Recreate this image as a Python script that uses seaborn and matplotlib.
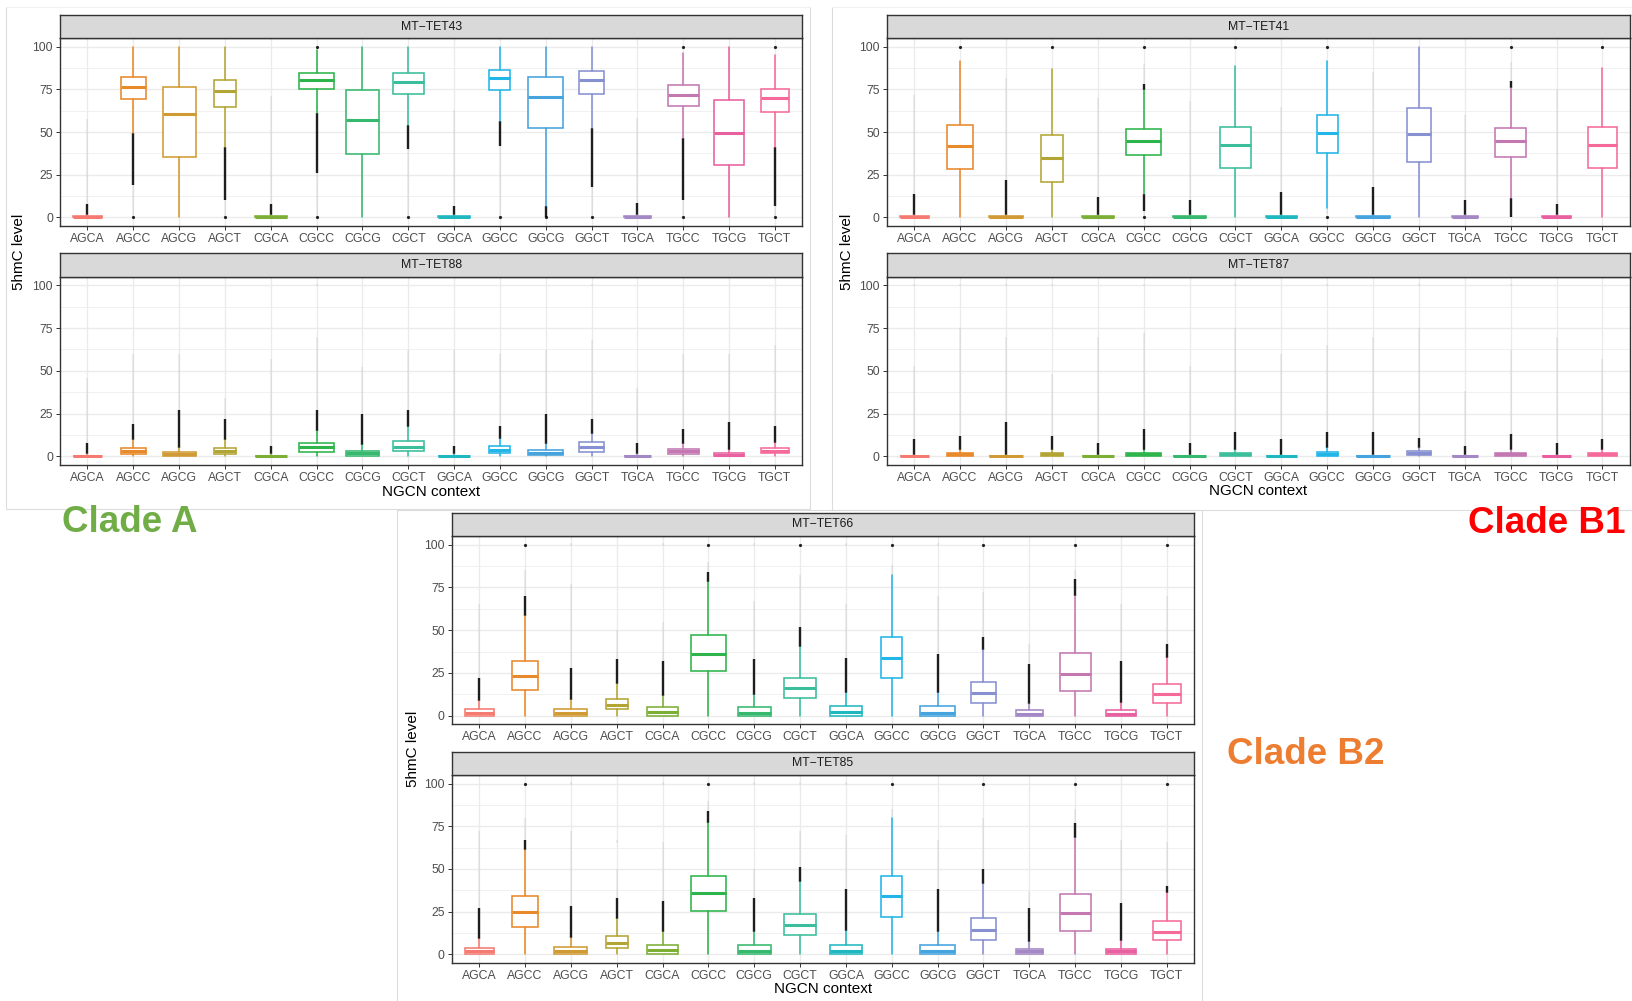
import matplotlib
matplotlib.use("Agg")
import matplotlib.pyplot as plt
from matplotlib.lines import Line2D
import seaborn as sns

W, H, DPI = 1633, 1001, 100

CONTEXTS = ["AGCA", "AGCC", "AGCG", "AGCT", "CGCA", "CGCC", "CGCG", "CGCT",
            "GGCA", "GGCC", "GGCG", "GGCT", "TGCA", "TGCC", "TGCG", "TGCT"]
COLORS = ["#F47A72", "#E8892A", "#D09A34", "#B3A534", "#7DAE36", "#2DB44A",
          "#36B86E", "#3BBE9B", "#20B8C0", "#22B5E8", "#45A3DD", "#8790D0",
          "#A487C5", "#C478B2", "#E8609F", "#F56A9A"]
# relative box widths (box width grows with number of sites)
BOX_WIDTHS = [0.63, 0.55, 0.72, 0.48, 0.69, 0.77, 0.71, 0.68,
              0.68, 0.46, 0.76, 0.54, 0.58, 0.68, 0.65, 0.62]

# ---- MT-TET43 : (whisker low, q1, median, q3, whisker high)
TET43_BOX = [(0, 0, 0, 0.6, 1.5), (49.3, 69.2, 76.6, 82.3, 100), (0, 35.7, 60.8, 76.2, 100),
             (41.5, 64.7, 74.3, 80.5, 100), (0, 0, 0, 0.6, 1.5), (61, 75, 80.5, 84.8, 98.4),
             (0, 37.4, 57.1, 74.5, 100), (54.4, 72.1, 79.3, 84.4, 100), (0, 0, 0, 0.6, 1.5),
             (56.5, 74.5, 81.5, 86.4, 100), (6.8, 52.2, 70.8, 82.3, 100), (52.6, 72.5, 80.5, 86, 100),
             (0, 0, 0, 0.6, 1.5), (46.4, 65.1, 71.9, 77.6, 96.5), (0, 31, 49.7, 68.6, 100),
             (41.3, 61.8, 69.8, 75.4, 95.1)]
TET43_DENSE = [[(1.5, 8)], [(19, 49.3)], [], [(10, 41.5)], [(1.5, 8)], [(26, 61)], [], [(40, 54.4)],
               [(1.5, 6.5)], [(42, 56.5)], [(0, 6.8)], [(18, 52.6)], [(1.5, 8.5)], [(10, 46.4)], [],
               [(7, 41.3)]]
TET43_FAINT = [[(8, 57.5)], [(0, 19)], [], [(0, 10)], [(8, 71)], [(0, 26)], [], [(0, 40)],
               [(6.5, 63)], [(0, 42)], [], [(0, 18)], [(8.5, 58)], [(0, 10)], [], [(0, 7)]]
TET43_DOTS = [[], [0], [], [0], [], [100, 0], [], [0], [], [0], [0], [0], [], [100, 0], [], [100, 0]]

# ---- MT-TET88
TET88_BOX = [(0, 0, 0, 0.5, 1.2), (0, 1.4, 3.1, 4.9, 9.4), (0, 0.4, 1.6, 2.7, 4.9),
             (0, 1.4, 2.9, 4.9, 9.4), (0, 0, 0, 0.5, 1.2), (0, 2.7, 5.3, 7.8, 14.6),
             (0, 0.4, 1.8, 3.3, 6.8), (0, 3.1, 5.8, 8.8, 17), (0, 0, 0, 0.5, 1.2),
             (0, 2, 4, 6, 10), (0, 1, 2, 4, 7), (0, 2.5, 5.5, 8.5, 13),
             (0, 0, 0, 0.5, 1.2), (0, 1.2, 3, 4.2, 7), (0, 0, 1, 2, 4), (0, 2, 3, 5, 8)]
TET88_DENSE = [[(1.2, 8)], [(9.4, 19)], [(4.9, 27)], [(9.4, 22)], [(1.2, 6)], [(14.6, 27)],
               [(6.8, 25)], [(17, 27)], [(1.2, 6)], [(10, 18)], [(7, 25)], [(13, 22)],
               [(1.2, 8)], [(7, 16)], [(4, 20)], [(8, 18)]]
TET88_FAINT = [[(8, 46)], [(19, 60)], [(27, 60)], [(22, 34)], [(6, 57)], [(27, 70), (99.3, 100.7)],
               [(25, 52)], [(27, 62)], [(6, 62)], [(18, 60)], [(25, 62)], [(22, 68), (99.3, 100.7)],
               [(8, 40)], [(16, 60)], [(20, 60)], [(18, 65)]]
TET88_DOTS = [[] for _ in range(16)]

# ---- MT-TET41
TET41_BOX = [(0, 0, 0, 0.6, 1.5), (0, 28.3, 41.7, 54.2, 91.6), (0, 0, 0, 0.6, 1.5),
             (0, 20.5, 35.1, 48.3, 87.3), (0, 0, 0, 0.6, 1.5), (14, 36.6, 44.6, 51.9, 74.7),
             (0, 0, 0, 0.6, 1.5), (0, 29.2, 42.7, 53.2, 88.7), (0, 0, 0, 0.6, 1.5),
             (5.8, 38, 49.3, 60, 91.6), (0, 0, 0, 0.6, 1.5), (0, 32.6, 48.7, 63.9, 100),
             (0, 0, 0, 0.6, 1.5), (11.3, 35.7, 44.6, 52.2, 76), (0, 0, 0, 0.6, 1.5),
             (0, 29.2, 42.7, 53, 87.7)]
TET41_DENSE = [[(1.5, 14)], [], [(1.5, 22)], [], [(1.5, 12)], [(74.7, 78), (4, 14)], [(1.5, 10)], [],
               [(1.5, 15)], [], [(1.5, 18)], [], [(1.5, 10)], [(76, 80), (0, 11.3)], [(1.5, 8)], []]
TET41_FAINT = [[(14, 72)], [], [(22, 82)], [], [(12, 70)], [(78, 90), (0, 4)], [(10, 68)], [],
               [(15, 65)], [(2, 5.8)], [(18, 85)], [], [(10, 60)], [(80, 91)], [(8, 75)], []]
TET41_DOTS = [[], [100], [], [100], [], [100, 0], [], [100], [], [100, 0], [], [], [], [100], [], [100]]

# ---- MT-TET87
TET87_BOX = [(0, 0, 0, 0.5, 1.0), (0, 0.3, 1.2, 2, 3.5), (0, 0, 0, 0.5, 1.0),
             (0, 0.3, 1.2, 2, 3.5), (0, 0, 0, 0.5, 1.0), (0, 0.4, 1.5, 2, 4),
             (0, 0, 0, 0.5, 1.0), (0, 0.3, 1.5, 2.2, 4), (0, 0, 0, 0.5, 1.0),
             (0, 0.5, 1.5, 2.5, 5), (0, 0, 0, 0.5, 1.0), (0, 0.7, 1.8, 3, 5),
             (0, 0, 0, 0.5, 1.0), (0, 0.3, 1.3, 2, 4), (0, 0, 0, 0.5, 1.0), (0, 0.3, 1.5, 2.2, 4)]
TET87_DENSE = [[(1, 10)], [(3.5, 12)], [(1, 20)], [(3.5, 12)], [(1, 8)], [(4, 16)], [(1, 8)],
               [(4, 14)], [(1, 10)], [(5, 14)], [(1, 14)], [(5, 10.5)], [(1, 6)], [(4, 13)],
               [(1, 8)], [(4, 10)]]
TET87_FAINT = [[(10, 53), (99.3, 100.7)], [(12, 75), (99.3, 100.7)], [(20, 70), (99.3, 100.7)],
               [(12, 48), (99.3, 100.7)], [(8, 70)], [(16, 72), (99.3, 100.7)], [(8, 53)],
               [(14, 75), (99.3, 100.7)], [(10, 60)], [(14, 65), (99.3, 100.7)], [(14, 70)],
               [(10.5, 75), (99.3, 100.7)], [(6, 38)], [(13, 62), (99.3, 100.7)], [(8, 70)],
               [(10, 57)]]
TET87_DOTS = [[] for _ in range(16)]

# ---- MT-TET66
TET66_BOX = [(0, 0, 1.5, 3.9, 8.4), (0, 14.8, 23, 32.2, 58.5), (0, 0, 1.6, 3.9, 9.4),
             (0, 3.7, 6.2, 9.9, 18.5), (0, 0, 2.3, 5, 11.7), (0, 26, 36, 47, 78),
             (0, 0, 1.8, 4.9, 12), (0, 10.1, 16, 22.2, 40), (0, 0, 2.2, 5.7, 13.3),
             (0, 21.8, 33.5, 46.2, 82.3), (0, 0, 1.8, 5.5, 13), (0, 7.6, 13, 20, 38.2),
             (0, 0, 1.2, 3.3, 6.8), (0, 14.2, 24.4, 36.5, 69.8), (0, 0, 1.2, 3.5, 7.2),
             (0, 7.6, 12.7, 18.3, 33.7)]
TET66_DENSE = [[(8.4, 22)], [(58.5, 70)], [(9.4, 28)], [(18.5, 33)], [(11.7, 32)], [(78, 84)],
               [(12, 33)], [(40, 52)], [(13.3, 34)], [], [(13, 36)], [(38.2, 46)], [(6.8, 30)],
               [(69.8, 80)], [(7.2, 32)], [(33.7, 42)]]
TET66_FAINT = [[(22, 65)], [(70, 85)], [(28, 77), (99.3, 100.7)], [(33, 50)],
               [(32, 55), (99.3, 100.7)], [(84, 90)], [(33, 67), (99.3, 100.7)], [(52, 82)],
               [(34, 65), (99.3, 100.7)], [(82.3, 88)], [(36, 70), (99.3, 100.7)], [(46, 72)],
               [(30, 42)], [(80, 85)], [(32, 65)], [(42, 70)]]
TET66_DOTS = [[], [100], [], [], [], [100], [], [100], [], [100], [], [100], [], [100], [], [100]]

# ---- MT-TET85
TET85_BOX = [(0, 0, 1.8, 3.9, 9.1), (0, 15.7, 24.7, 34, 60.8), (0, 0, 1.6, 4.3, 9.7),
             (0, 3.5, 6.8, 10.7, 20.4), (0, 0, 2.3, 5.4, 13), (0, 25.4, 35.7, 46, 76.7),
             (0, 0, 1.9, 5.2, 13), (0, 11.1, 16.9, 23.7, 42.1), (0, 0, 1.7, 5.6, 13.6),
             (0, 21.9, 33.8, 45.8, 79.6), (0, 0, 1.7, 5.4, 13.2), (0, 8.2, 14, 21.4, 41.4),
             (0, 0, 1.7, 3.3, 7.4), (0, 13.6, 23.9, 35.5, 68), (0, 0, 1.7, 3.3, 7.8),
             (0, 8.2, 13.2, 19.4, 35.9)]
TET85_DENSE = [[(9.1, 27)], [(60.8, 67)], [(9.7, 28)], [(20.4, 33)], [(13, 31)], [(76.7, 84)],
               [(13, 33)], [(42.1, 51)], [(13.6, 38)], [], [(13.2, 38)], [(41.4, 50)], [(7.4, 27)],
               [(68, 77)], [(7.8, 30)], [(35.9, 40)]]
TET85_FAINT = [[(27, 72)], [(67, 80)], [(28, 72), (99.3, 100.7)], [(33, 50), (65, 67)],
               [(31, 66), (99.3, 100.7)], [(84, 90)], [(33, 50), (99.3, 100.7)], [(51, 72), (99.3, 100.7)],
               [(38, 70), (99.3, 100.7)], [(79.6, 85)], [(38, 67)], [(50, 80)],
               [(27, 37)], [(77, 85)], [(30, 67)], [(40, 66)]]
TET85_DOTS = [[], [100], [], [], [], [100], [], [], [], [100], [], [100], [], [100], [], [100]]

# facet title, data, panel rectangle in pixels (left, top, right, bottom)
PANELS = [
    ("MT\u2212TET43", TET43_BOX, TET43_DENSE, TET43_FAINT, TET43_DOTS, (60, 38.3, 802.3, 226)),
    ("MT\u2212TET88", TET88_BOX, TET88_DENSE, TET88_FAINT, TET88_DOTS, (60, 276.7, 802.3, 465)),
    ("MT\u2212TET41", TET41_BOX, TET41_DENSE, TET41_FAINT, TET41_DOTS, (886.7, 38.3, 1630, 226)),
    ("MT\u2212TET87", TET87_BOX, TET87_DENSE, TET87_FAINT, TET87_DOTS, (886.7, 276.7, 1630, 465)),
    ("MT\u2212TET66", TET66_BOX, TET66_DENSE, TET66_FAINT, TET66_DOTS, (451.7, 536, 1194.3, 724.3)),
    ("MT\u2212TET85", TET85_BOX, TET85_DENSE, TET85_FAINT, TET85_DOTS, (451.7, 775, 1194.3, 962.7)),
]
STRIP_H = 23.3

sns.set_theme(style="white")
plt.rcParams["font.family"] = ["Liberation Sans", "DejaVu Sans"]

fig = plt.figure(figsize=(W / DPI, H / DPI), dpi=DPI)
fig.patch.set_facecolor("white")


def px_rect(x0, y0, x1, y1):
    return [x0 / W, 1 - y1 / H, (x1 - x0) / W, (y1 - y0) / H]


def fline(x0, y0, x1, y1, color="#DCDCDC", lw=0.8):
    fig.add_artist(Line2D([x0 / W, x1 / W], [1 - y0 / H, 1 - y1 / H],
                          color=color, lw=lw, transform=fig.transFigure))


# light frames around each clade block
fline(5.7, 7, 5.7, 509); fline(810, 7, 810, 509); fline(5.7, 509, 810, 509)
fline(5.7, 7, 810, 7, color="#F0F0F0")
fline(832.3, 7, 832.3, 510); fline(832.3, 510, 1633, 510)
fline(832.3, 7, 1633, 7, color="#F0F0F0")
fline(397.3, 510, 397.3, 1001); fline(1202.5, 510, 1202.5, 1001); fline(397.3, 510, 1202.5, 510)

for title, box, dense, faint, dots, (x0, y0, x1, y1) in PANELS:
    ax = fig.add_axes(px_rect(x0, y0, x1, y1))
    ax.set_facecolor("white")
    ax.set_xlim(-0.6, len(CONTEXTS) - 0.4)
    ax.set_ylim(-5, 105)
    ax.set_yticks([0, 25, 50, 75, 100])
    ax.set_yticks([12.5, 37.5, 62.5, 87.5], minor=True)
    ax.set_xticks(range(len(CONTEXTS)))
    ax.set_xticklabels(CONTEXTS)
    ax.grid(which="major", color="#EBEBEB", lw=1.0)
    ax.grid(which="minor", axis="y", color="#EBEBEB", lw=0.5)
    ax.set_axisbelow(True)
    ax.tick_params(which="major", bottom=True, left=True, length=2.75, width=0.7,
                   color="#333333", pad=2.2, labelsize=8.8, labelcolor="#4D4D4D")
    ax.tick_params(which="minor", length=0)
    for sp in ax.spines.values():
        sp.set_color("#333333")
        sp.set_linewidth(1.0)
        sp.set_zorder(6)

    for i, ctx in enumerate(CONTEXTS):
        col = COLORS[i]
        for lo, hi in faint[i]:
            ax.vlines(i, lo, hi, colors="black", alpha=0.08, lw=1.1, zorder=2)
        for lo, hi in dense[i]:
            ax.vlines(i, lo, hi, colors="black", alpha=0.88, lw=1.7, zorder=2)
        for v in dots[i]:
            ax.plot([i], [v], "o", ms=2.3, color="black", alpha=0.85, mew=0, zorder=2)
        wlo, q1, med, q3, whi = box[i]
        stats = [dict(whislo=wlo, q1=q1, med=med, q3=q3, whishi=whi, label=ctx)]
        ax.bxp(stats, positions=[i], widths=[BOX_WIDTHS[i]], showcaps=False,
               showfliers=False, patch_artist=True, manage_ticks=False, zorder=3,
               boxprops=dict(facecolor="white", edgecolor=col, linewidth=1.15),
               whiskerprops=dict(color=col, linewidth=1.15),
               medianprops=dict(color=col, linewidth=2.2, solid_capstyle="butt"))

    sax = fig.add_axes(px_rect(x0, y0 - STRIP_H, x1, y0))
    sax.set_facecolor("#D9D9D9")
    sax.set_xticks([]); sax.set_yticks([])
    for sp in sax.spines.values():
        sp.set_color("#333333")
        sp.set_linewidth(1.0)
    sax.text(0.5, 0.5, title, ha="center", va="center", fontsize=8.8,
             color="#1A1A1A", transform=sax.transAxes)

# axis titles
for (xc, yc) in [(19, 251.7), (847, 251.7), (413, 749.3)]:
    fig.text(xc / W, 1 - yc / H, "5hmC level", rotation=90, ha="center", va="center",
             fontsize=11, color="black")
for (xc, yc) in [(431, 492), (1258, 491.5), (823, 989)]:
    fig.text(xc / W, 1 - yc / H, "NGCN context", ha="center", va="center",
             fontsize=11, color="black")

# clade labels
fig.text(62.5 / W, 1 - 532 / H, "Clade A", fontsize=26.5, fontweight="bold",
         color="#70AD47", ha="left", va="baseline")
fig.text(1468 / W, 1 - 532.7 / H, "Clade B1", fontsize=26.5, fontweight="bold",
         color="#FF0000", ha="left", va="baseline")
fig.text(1226.7 / W, 1 - 764 / H, "Clade B2", fontsize=26.5, fontweight="bold",
         color="#ED7D31", ha="left", va="baseline")

fig.savefig("out.png", dpi=DPI, facecolor="white")
